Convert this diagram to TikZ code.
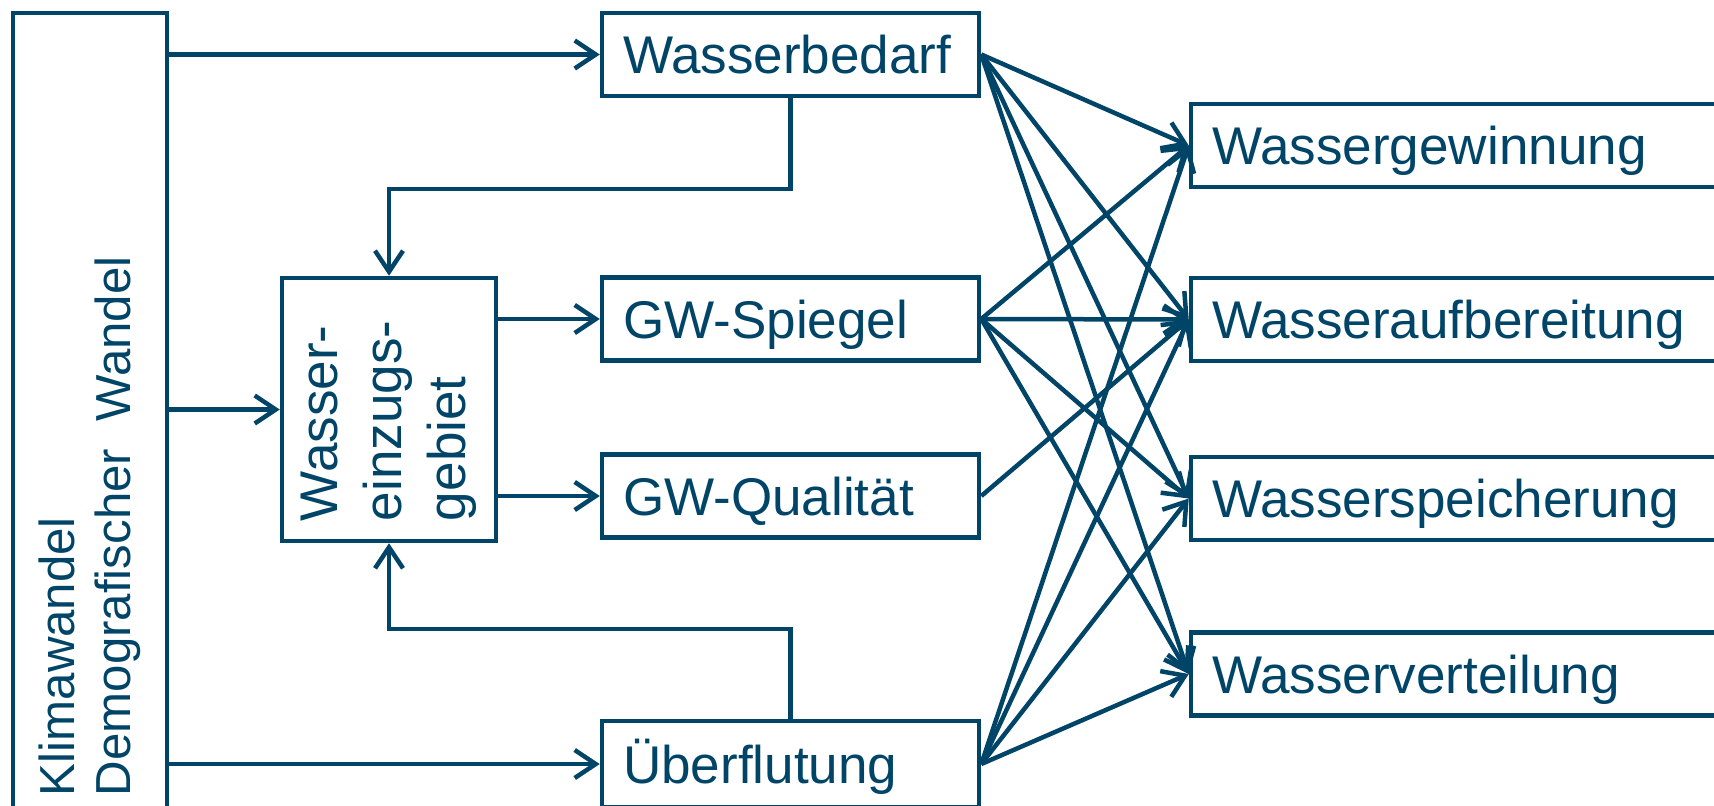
\documentclass[tikz,border=0pt]{standalone}
\usepackage{fontspec}
\setmainfont{Liberation Sans}
\usepackage{graphicx}
\usetikzlibrary{arrows.meta}
\definecolor{dunkelblau}{RGB}{0,69,104}

\begin{document}
\begin{tikzpicture}[x=0.1mm, y=-0.1mm,
  every node/.style = {shape=rectangle, draw=dunkelblau, line width=0.45mm,
    text=dunkelblau, inner xsep=2.1mm, inner ysep=0pt,
    font=\fontsize{15.1pt}{18.2pt}\selectfont},
  box/.style = {minimum width=37.7mm, minimum height=8.3mm,
    text width=33.5mm, align=left, text height=3.8mm, text depth=0pt},
  wide/.style = {box, minimum width=56.9mm, text width=52.7mm},
  arr/.style = {draw=dunkelblau, line width=0.45mm,
    -{Straight Barb[length=2.1mm,width=2.8mm]}}]
  \useasboundingbox (0,0) rectangle (1714,805);
  % linke Spalte
  \node [minimum width=15.4mm, minimum height=80.7mm, inner sep=0pt] (kw) at (90,416.5)
    {\rotatebox{90}{\parbox{75.9mm}{\fontsize{14pt}{15.8pt}\selectfont\raggedright
      Klimawandel\\Demografischer\ \ Wandel}}};
  \node [minimum width=21.4mm, minimum height=26.3mm, inner sep=0pt] (ez) at (389,409.5)
    {\rotatebox{90}{\parbox{22.3mm}{\raggedright Wasser-\\einzugs-\\gebiet}}};
  % mittlere Spalte
  \node [box] (wb) at (790.5,54.5) {Wasserbedarf};
  \node [box] (gws) at (790.5,319) {GW-Spiegel};
  \node [box] (gwq) at (790.5,496) {GW-Qualität};
  \node [box, minimum height=8.6mm] (ueb) at (790.5,764) {Überflutung};
  % rechte Spalte
  \node [wide] (wg) at (1475.5,145.5) {Wassergewinnung};
  \node [wide] (wa) at (1475.5,319.5) {Wasseraufbereitung};
  \node [wide] (ws) at (1475.5,498.5) {Wasserspeicherung};
  \node [wide] (wv) at (1475.5,674) {Wasserverteilung};

  \draw [arr] (kw.east |- wb.west) -- (wb.west);
  \draw [arr] (kw.east |- ez.west) -- (ez.west);
  \draw [arr] (kw.east |- ueb.west) -- (ueb.west);
  \draw [arr] (wb.south) -- ++(0,91) -| (ez.north);
  \draw [arr] (ueb.north) -- ++(0,-90) -| (ez.south);
  \draw [arr] (ez.east |- gws.west) -- (gws.west);
  \draw [arr] (ez.east |- gwq.west) -- (gwq.west);
  % Auswirkungen
  \foreach \s in {wb, gws, ueb}
    \foreach \t in {wg, wa, ws, wv}
      \draw [arr] (\s.east) -- (\t.west);
  \draw [arr] (gwq.east) -- (wa.west);
\end{tikzpicture}
\end{document}
